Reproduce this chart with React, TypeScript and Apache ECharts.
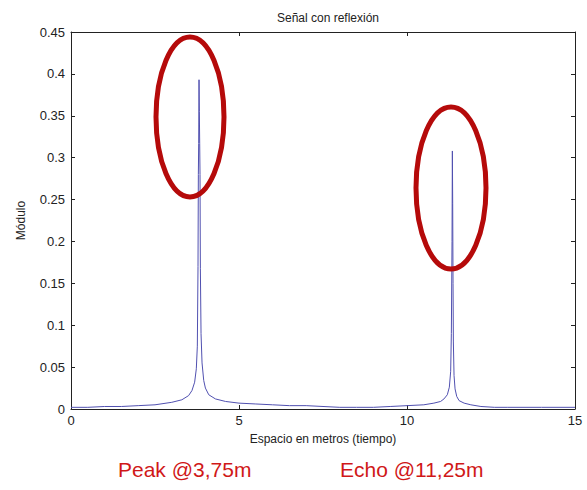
import React, { useEffect, useRef } from "react";
import * as echarts from "echarts";

const title = "Señal con reflexión";
const xName = "Espacio en metros (tiempo)";
const yName = "Módulo";
const xTicks = [0, 5, 10, 15];
const yTicks = [0, 0.05, 0.1, 0.15, 0.2, 0.25, 0.3, 0.35, 0.4, 0.45];

const xs = [
  0, 0.5, 1.0, 1.5, 2.0, 2.5, 3.0, 3.3, 3.5, 3.6, 3.68, 3.73, 3.76, 3.78, 3.79, 3.8, 3.81,
  3.82, 3.83, 3.84, 3.85, 3.87, 3.9, 3.95, 4.0, 4.1, 4.3, 4.6, 5.0, 5.5, 6.0, 6.5, 7.0,
  7.5, 8.0, 8.5, 9.0, 9.5, 10.0, 10.5, 10.8, 11.0, 11.1, 11.2, 11.26, 11.3, 11.32, 11.34,
  11.35, 11.36, 11.37, 11.38, 11.4, 11.43, 11.48, 11.55, 11.7, 11.9, 12.2, 12.6, 13.0,
  14.0, 15.0,
];
const ys = [
  0.002, 0.002, 0.003, 0.003, 0.004, 0.005, 0.008, 0.011, 0.016, 0.022, 0.032, 0.048,
  0.075, 0.17, 0.28, 0.317, 0.393, 0.355, 0.317, 0.28, 0.168, 0.09, 0.055, 0.034, 0.025,
  0.017, 0.012, 0.009, 0.007, 0.006, 0.005, 0.004, 0.004, 0.003, 0.002, 0.002, 0.002,
  0.003, 0.004, 0.005, 0.007, 0.009, 0.012, 0.017, 0.026, 0.045, 0.09, 0.2, 0.308, 0.245,
  0.15, 0.08, 0.04, 0.024, 0.015, 0.01, 0.007, 0.005, 0.003, 0.002, 0.002, 0.002, 0.002,
];
const annotations = ["Peak @3,75m", "Echo @11,25m"];

export default function App() {
  const ref = useRef<HTMLDivElement>(null);
  useEffect(() => {
    if (!ref.current) return;
    const chart = echarts.init(ref.current, undefined, { renderer: "svg" });
    const font = "'Liberation Sans', Arial, sans-serif";
    const axisCommon = {
      type: "value" as const,
      axisLine: { show: true, onZero: false, lineStyle: { color: "#222", width: 1 } },
      axisTick: { show: true, inside: true, length: 4, lineStyle: { color: "#222" } },
      splitLine: { show: false },
    };
    chart.setOption({
      animation: false,
      backgroundColor: "#fff",
      title: {
        text: title,
        left: 323,
        textAlign: "center",
        top: 7,
        textStyle: { fontSize: 12, fontWeight: "normal", color: "#222", fontFamily: font },
      },
      grid: { left: 71, top: 32, right: 12, bottom: 81 },
      xAxis: [
        {
          ...axisCommon,
          min: 0,
          max: 15,
          interval: 5,
          name: xName,
          nameLocation: "middle",
          nameGap: 24,
          nameTextStyle: { fontSize: 12, color: "#222", fontFamily: font },
          axisLabel: {
            fontSize: 13,
            color: "#222",
            fontFamily: font,
            margin: 5,
            formatter: (v: number) => (xTicks.includes(v) ? String(v) : ""),
          },
        },
        {
          ...axisCommon,
          position: "top",
          min: 0,
          max: 15,
          interval: 5,
          axisLabel: { show: false },
        },
      ],
      yAxis: [
        {
          ...axisCommon,
          min: 0,
          max: 0.45,
          interval: 0.05,
          name: yName,
          nameLocation: "middle",
          nameGap: 44,
          nameTextStyle: { fontSize: 12, color: "#222", fontFamily: font },
          axisLabel: {
            fontSize: 13,
            color: "#222",
            fontFamily: font,
            margin: 6,
            formatter: (v: number) => {
              const t = yTicks.find((k) => Math.abs(k - v) < 1e-9);
              return t === undefined ? "" : String(+t.toFixed(2));
            },
          },
        },
        {
          ...axisCommon,
          position: "right",
          min: 0,
          max: 0.45,
          interval: 0.05,
          axisLabel: { show: false },
        },
      ],
      series: [
        {
          type: "line",
          xAxisIndex: 0,
          yAxisIndex: 0,
          data: xs.map((x, i) => [x, ys[i]]),
          showSymbol: false,
          symbol: "none",
          lineStyle: { color: "#5050b0", width: 1 },
        },
      ],
      graphic: [
        {
          type: "ellipse",
          shape: { cx: 190, cy: 117, rx: 34, ry: 80 },
          style: { fill: "none", stroke: "#b50a0a", lineWidth: 5 },
          z: 10,
        },
        {
          type: "ellipse",
          shape: { cx: 451, cy: 188, rx: 35, ry: 81 },
          style: { fill: "none", stroke: "#b50a0a", lineWidth: 5 },
          z: 10,
        },
        {
          type: "text",
          left: 118,
          top: 459,
          style: { text: annotations[0], fontSize: 21, fill: "#d01818", fontFamily: font },
        },
        {
          type: "text",
          left: 340,
          top: 459,
          style: { text: annotations[1], fontSize: 21, fill: "#d01818", fontFamily: font },
        },
      ],
    });
    return () => chart.dispose();
  }, []);
  return <div ref={ref} style={{ width: 587, height: 490, position: "absolute", left: 0, top: 0 }} />;
}
